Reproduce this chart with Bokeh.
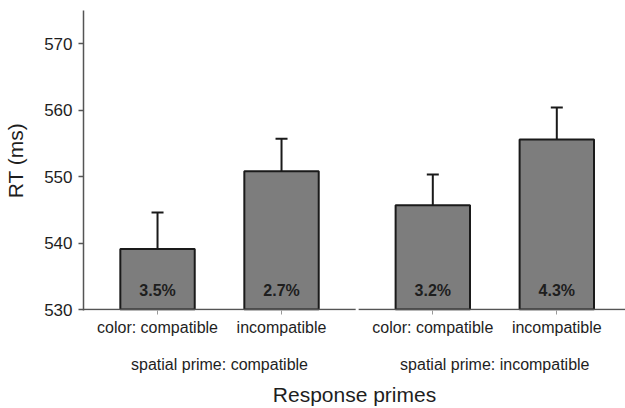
from bokeh.plotting import figure
from bokeh.models import Range1d, FixedTicker, Whisker, ColumnDataSource, TeeHead, LinearAxis
from bokeh.core.properties import value
from bokeh.embed import file_html
from bokeh.resources import INLINE

# ---- data ----
conditions = ["color: compatible", "incompatible", "color: compatible", "incompatible"]
groups = ["spatial prime: compatible", "spatial prime: incompatible"]
rt_ms = [539.1, 550.8, 545.7, 555.6]
se_ms = [5.5, 4.9, 4.6, 4.8]
error_rates = ["3.5%", "2.7%", "3.2%", "4.3%"]
y_ticks = [530, 540, 550, 560, 570]
x_title = "Response primes"
y_title = "RT (ms)"

# ---- layout ----
x_pos = [1.0, 2.0, 3.22, 4.22]
group_pos = [(x_pos[0] + x_pos[1]) / 2, (x_pos[2] + x_pos[3]) / 2]
gap_mid = (x_pos[1] + x_pos[2]) / 2
FONT = "Liberation Sans"
TXT = "#1e1e1e"
AX = "#555555"

x0, x1 = 0.403, 4.774
y0, y1 = 529.85, 575

p = figure(width=625, height=408, output_backend="svg", toolbar_location=None,
           x_range=Range1d(x0, x1), y_range=Range1d(y0, y1),
           min_border_left=83, min_border_right=0, min_border_top=10, min_border_bottom=97)
p.outline_line_color = None
p.grid.visible = False
p.background_fill_color = "white"

src = ColumnDataSource(dict(x=x_pos, top=rt_ms, upper=[r + s for r, s in zip(rt_ms, se_ms)],
                            lab=error_rates, base=[y_ticks[0]] * len(rt_ms)))

p.vbar(x="x", top="top", bottom="base", width=0.6, source=src,
       fill_color="#7d7d7d", line_color="#1a1a1a", line_width=2)

w = Whisker(base="x", upper="upper", lower="top", source=src, dimension="height",
            line_color="#1a1a1a", line_width=2,
            upper_head=TeeHead(size=12, line_color="#1a1a1a", line_width=2), lower_head=None)
p.add_layout(w)

p.text(x="x", y=532.85, text="lab", source=src, text_align="center", text_baseline="middle",
       text_font=value(FONT), text_font_size="16px", text_font_style="bold", text_color=TXT)

# broken x axis line
p.segment(x0=[x0, gap_mid + 0.012], x1=[gap_mid - 0.012, x1], y0=[y_ticks[0]] * 2, y1=[y_ticks[0]] * 2,
          line_color=AX, line_width=1.5)

# y axis
ya = p.yaxis[0]
ya.ticker = FixedTicker(ticks=y_ticks)
ya.axis_label = y_title
ya.axis_label_text_font = FONT
ya.axis_label_text_font_size = "21px"
ya.axis_label_text_font_style = "normal"
ya.axis_label_text_color = TXT
ya.axis_label_standoff = 14
ya.major_label_text_font = FONT
ya.major_label_text_font_size = "17px"
ya.major_label_text_color = TXT
ya.major_label_standoff = 6
ya.major_tick_out = 5
ya.major_tick_in = 0
ya.minor_tick_out = 0
ya.minor_tick_in = 0
ya.axis_line_color = AX
ya.axis_line_width = 1.5
ya.major_tick_line_color = AX
ya.major_tick_line_width = 1.5

# x axis (condition labels)
xa = p.xaxis[0]
xa.ticker = FixedTicker(ticks=x_pos)
xa.major_label_overrides = {x: c for x, c in zip(x_pos, conditions)}
xa.major_label_text_font = FONT
xa.major_label_text_font_size = "16px"
xa.major_label_text_color = TXT
xa.major_label_standoff = 4
xa.axis_line_color = None
xa.major_tick_out = 4
xa.major_tick_in = 0
xa.minor_tick_out = 0
xa.minor_tick_in = 0
xa.major_tick_line_color = "#999999"
xa.major_tick_line_width = 1

# second x axis (group labels + title)
ga = LinearAxis(ticker=FixedTicker(ticks=group_pos),
                major_label_overrides={x: g for x, g in zip(group_pos, groups)})
ga.major_label_text_font = FONT
ga.major_label_text_font_size = "16px"
ga.major_label_text_color = TXT
ga.major_label_standoff = 17
ga.axis_line_color = None
ga.major_tick_line_color = None
ga.minor_tick_line_color = None
ga.major_tick_out = 0
ga.major_tick_in = 0
ga.axis_label = x_title
ga.axis_label_text_font = FONT
ga.axis_label_text_font_size = "21px"
ga.axis_label_text_font_style = "normal"
ga.axis_label_text_color = TXT
ga.axis_label_standoff = 7
p.add_layout(ga, "below")

open("out.html", "w").write(file_html(p, INLINE))
